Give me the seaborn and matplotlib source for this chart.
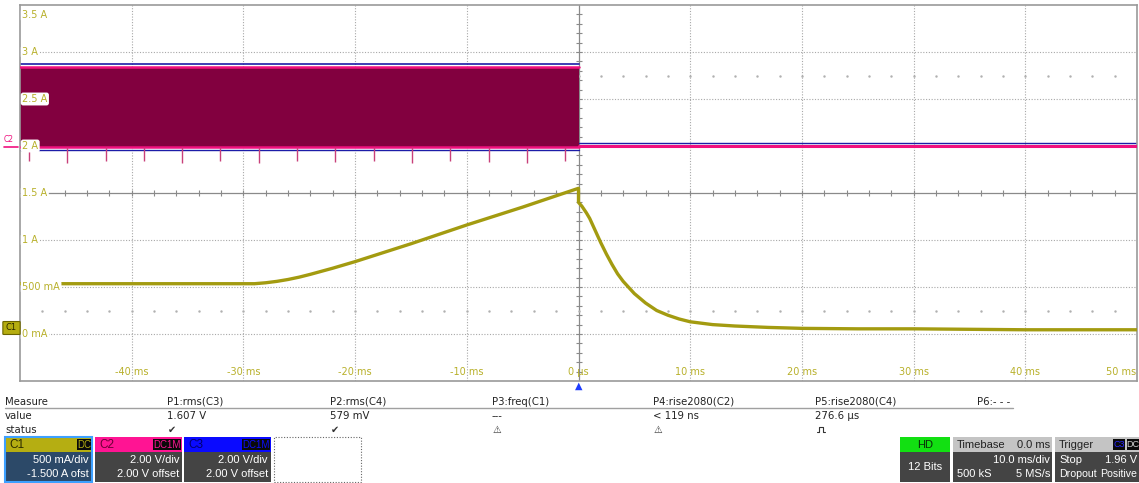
import numpy as np
import pandas as pd
import matplotlib.pyplot as plt
from matplotlib.patches import Rectangle, FancyBboxPatch
import seaborn as sns

# ---- data ----
# C1 current (A) vs time (ms)
ramp_t = [-50, -29, -28, -27, -26, -25, -24, -22, -20, -15, -10, -5, 0]
ramp_i = [0.535, 0.535, 0.545, 0.56, 0.58, 0.605, 0.635, 0.70, 0.77, 0.96,
          1.16, 1.35, 1.55]
decay_t = [0, 0.3, 0.7, 1, 1.5, 2, 2.5, 3, 3.5, 4, 5, 6, 7, 8, 9, 10, 12, 14,
           17, 20, 25, 30, 40, 50]
decay_i = [1.40, 1.36, 1.29, 1.23, 1.10, 0.97, 0.85, 0.74, 0.64, 0.56, 0.43,
           0.33, 0.25, 0.20, 0.16, 0.13, 0.10, 0.085, 0.07, 0.06, 0.055,
           0.055, 0.045, 0.045]

# C2 / C3 switching band before trigger, flat level after (drawn on the A grid)
band_t = [-50, 0]
band_lo = [1.99, 1.99]
band_hi = [2.845, 2.845]
c3_hi = [2.875, 2.875]
c3_lo = [1.96, 1.96]
after_t = [0, 50]
c2_after = [2.0, 2.0]
c3_after = [2.03, 2.03]
spike_t = [-49.2, -45.8, -42.3, -38.9, -35.5, -32.1, -28.6, -25.2, -21.8,
           -18.3, -14.9, -11.5, -8.0, -4.6, -1.2]
spike_end = [1.84, 1.82, 1.84, 1.84, 1.82, 1.84, 1.82, 1.84, 1.83,
             1.84, 1.82, 1.84, 1.83, 1.82, 1.84]

y_ticks = [3.5, 3.0, 2.5, 2.0, 1.5, 1.0, 0.5, 0.0]
y_labels = ["3.5 A", "3 A", "2.5 A", "2 A", "1.5 A", "1 A", "500 mA", "0 mA"]
x_ticks = [-40, -30, -20, -10, 0, 10, 20, 30, 40, 50]
x_labels = ["-40 ms", "-30 ms", "-20 ms", "-10 ms", "0 µs", "10 ms", "20 ms",
            "30 ms", "40 ms", "50 ms"]

meas_names = ["P1:rms(C3)", "P2:rms(C4)", "P3:freq(C1)", "P4:rise2080(C2)",
              "P5:rise2080(C4)", "P6:- - -"]
meas_values = ["1.607 V", "579 mV", "---", "< 119 ns", "276.6 µs", ""]
meas_status = ["\u2714", "\u2714", "\u26a0", "\u26a0", "pulse", ""]

YEL = "#a39b10"
YEL_TXT = "#b8b02a"
PINK = "#f0107e"
MAROON = "#82003f"
BLUE = "#1c1ca8"

sns.set_theme(style="white")
plt.rcParams['font.family'] = ['DejaVu Sans']

W, H = 1139, 483
fig = plt.figure(figsize=(W / 100, H / 100), dpi=100)
fig.patch.set_facecolor("white")


def fx(x):
    return x / W


def fy(y):
    return 1 - y / H


ax = fig.add_axes([fx(20), fy(381), 1117 / W, 376 / H])
ax.set_xlim(-50, 50)
ax.set_ylim(-0.5, 3.5)
ax.set_xticks([])
ax.set_yticks([])
for s in ax.spines.values():
    s.set_color("#9a9a9a")
    s.set_linewidth(1.2)

# graticule
for t in [-40, -30, -20, -10, 10, 20, 30, 40]:
    ax.axvline(t, color="#a8a8a8", lw=0.8, ls=(0, (1, 1.5)), zorder=0)
for v in [0, 0.5, 1.0, 2.0, 2.5, 3.0]:
    ax.axhline(v, color="#a8a8a8", lw=0.8, ls=(0, (1, 1.5)), zorder=0)
ax.axvline(0, color="#8a8a8a", lw=0.9, zorder=0)
ax.axhline(1.5, color="#8a8a8a", lw=0.9, zorder=0)
tk = np.arange(-48, 50, 2)
ax.plot(tk, np.full(len(tk), 1.5), ls="none", marker="|", ms=5, mew=0.8,
        color="#8a8a8a", zorder=0)
ax.plot(tk, np.full(len(tk), 2.75), ls="none", marker=".", ms=1.5,
        color="#b0b0b0", zorder=0)
ax.plot(tk, np.full(len(tk), 0.25), ls="none", marker=".", ms=1.5,
        color="#b0b0b0", zorder=0)
vk = np.arange(-0.4, 3.45, 0.1)
ax.plot(np.zeros(len(vk)), vk, ls="none", marker="_", ms=5, mew=0.8,
        color="#8a8a8a", zorder=0)

# C2 / C3 traces
ax.fill_between(band_t, band_lo, band_hi, color=MAROON, lw=0, zorder=2)
sns.lineplot(x=band_t, y=c3_hi, color=BLUE, lw=1.2, ax=ax, zorder=2)
sns.lineplot(x=band_t, y=c3_lo, color=BLUE, lw=1.0, ax=ax, zorder=2)
sns.lineplot(x=band_t, y=band_hi, color=PINK, lw=1.8, ax=ax, zorder=3)
sns.lineplot(x=band_t, y=band_lo, color=PINK, lw=1.8, ax=ax, zorder=3)
ax.vlines(spike_t, spike_end, band_lo[0], color="#c8407a", lw=1.0, zorder=3)
sns.lineplot(x=after_t, y=c3_after, color=BLUE, lw=1.0, ax=ax, zorder=2)
sns.lineplot(x=after_t, y=c2_after, color=PINK, lw=2.2, ax=ax, zorder=3)

# C1 trace
c1 = pd.DataFrame({"t": ramp_t + decay_t, "i": ramp_i + decay_i})
sns.lineplot(data=c1, x="t", y="i", estimator=None, sort=False, color=YEL,
             lw=2.4, ax=ax, zorder=4)
ax.set_xlabel("")
ax.set_ylabel("")

# on-screen labels
lab_box = dict(boxstyle="round,pad=0.15,rounding_size=0.25", fc="white", ec="none")
for v, s in zip(y_ticks, y_labels):
    yy = 3.39 if v == 3.5 else v
    ax.text(-49.8, yy, s, color=YEL_TXT, fontsize=7, ha="left", va="center",
            bbox=lab_box, zorder=6)
for t, s in zip(x_ticks, x_labels):
    ax.text(49.9 if t == 50 else t, -0.40, s, color=YEL_TXT, fontsize=7,
            ha="right" if t == 50 else "center", va="center", zorder=6)

# left channel markers
fig.text(fx(4), fy(140), "C2", color=PINK, fontsize=5.5, va="center")
fig.lines.append(plt.Line2D([fx(4), fx(18)], [fy(147), fy(147)], color=PINK,
                            lw=1.2, transform=fig.transFigure))
fig.patches.append(FancyBboxPatch((fx(4), fy(334)), 15 / W, 12 / H,
                                  boxstyle="round,pad=0.001", fc="#b5ad10",
                                  ec="#6b6500", lw=0.8, transform=fig.transFigure))
fig.text(fx(11.5), fy(328), "C1", color="#2a2800", fontsize=6, ha="center",
         va="center")

# trigger arrow
fig.text(fx(579), fy(386), "\u25b2", color="#1e3cff", fontsize=7, ha="center",
         va="center")

# ---- measurement table ----
fs = 7.3
fig.text(fx(5), fy(402), "Measure", fontsize=fs, va="center", color="#222222")
fig.text(fx(5), fy(416), "value", fontsize=fs, va="center", color="#222222")
fig.text(fx(5), fy(430), "status", fontsize=fs, va="center", color="#222222")
fig.lines.append(plt.Line2D([fx(5), fx(1013)], [fy(408), fy(408)],
                            color="#a0a0a0", lw=1, transform=fig.transFigure))
xs = [167, 330, 492, 653, 815, 977]
for x, n, v, st in zip(xs, meas_names, meas_values, meas_status):
    fig.text(fx(x), fy(402), n, fontsize=fs, va="center", color="#222222")
    fig.text(fx(x), fy(416), v, fontsize=fs, va="center", color="#222222")
    if st == "pulse":
        px = [x + 2, x + 4, x + 4, x + 8, x + 8, x + 10]
        py = [432, 432, 427, 427, 432, 432]
        fig.lines.append(plt.Line2D([fx(p) for p in px], [fy(p) for p in py],
                                    color="#333333", lw=0.8,
                                    transform=fig.transFigure))
    elif st:
        fig.text(fx(x + 1), fy(430), st, fontsize=7, va="center",
                 color="#333333")


def rect(x0, y0, x1, y1, fc, ec="none", lw=0, ls="-"):
    fig.patches.append(Rectangle((fx(x0), fy(y1)), (x1 - x0) / W, (y1 - y0) / H,
                                 fc=fc, ec=ec, lw=lw, ls=ls,
                                 transform=fig.transFigure))


def txt(x, y, s, color="white", ha="left", size=8, **kw):
    fig.text(fx(x), fy(y), s, color=color, ha=ha, va="center", fontsize=size,
             family=["Liberation Sans", "DejaVu Sans"], **kw)


def badge(x0, x1, s, color, size=7):
    rect(x0, 439, x1, 450, "#0a0a0a")
    txt((x0 + x1) / 2, 444.5, s, color=color, ha="center", size=size)


# channel boxes
chans = [("C1", "DC", "#b5ae12", "#2b2b00", "#2c4968", "500 mA/div", "-1.500 A ofst"),
         ("C2", "DC1M", "#ff1493", "#6a0035", "#444444", "2.00 V/div", "2.00 V offset"),
         ("C3", "DC1M", "#0a0aff", "#000070", "#444444", "2.00 V/div", "2.00 V offset")]
cx = [5, 95, 184]
for x0, (nm, cpl, hc, tc, bc, l1, l2) in zip(cx, chans):
    x1 = x0 + 87
    rect(x0, 437, x1, 452, hc)
    rect(x0, 452, x1, 482, bc)
    txt(x0 + 4, 444.5, nm, color=tc, size=8.5)
    bw = 14 if cpl == "DC" else 28
    badge(x1 - bw - 1, x1 - 1, cpl, hc)
    txt(x1 - 3, 460, l1, ha="right", size=8)
    txt(x1 - 3, 474, l2, ha="right", size=8)
rect(5, 437, 92, 482, "none", ec="#3da0ff", lw=1.5)
rect(274, 437, 361, 482, "none", ec="#666666", lw=0.8, ls=(0, (1, 1.5)))

# acquisition boxes
rect(900, 437, 950, 452, "#12e012")
rect(900, 452, 950, 482, "#444444")
txt(925, 444.5, "HD", color="#0a2a0a", ha="center", size=8)
txt(925, 467, "12 Bits", ha="center", size=8)

rect(953, 437, 1052, 452, "#c4c4c4")
rect(953, 452, 1052, 482, "#444444")
txt(957, 444.5, "Timebase", color="#222222", size=8)
txt(1050, 444.5, "0.0 ms", color="#222222", ha="right", size=8)
txt(1050, 460, "10.0 ms/div", ha="right", size=8)
txt(957, 474, "500 kS", size=8)
txt(1050, 474, "5 MS/s", ha="right", size=8)

rect(1055, 437, 1139, 452, "#c4c4c4")
rect(1055, 452, 1139, 482, "#444444")
txt(1059, 444.5, "Trigger", color="#222222", size=8)
badge(1113, 1125, "C3", "#2a2aff", size=6.5)
badge(1127, 1139, "DC", "#d0d0d0", size=6.5)
txt(1059, 460, "Stop", size=8)
txt(1137, 460, "1.96 V", ha="right", size=8)
txt(1059, 474, "Dropout", size=7.6)
txt(1137, 474, "Positive", ha="right", size=7.6)

fig.savefig("out.png", dpi=100)
